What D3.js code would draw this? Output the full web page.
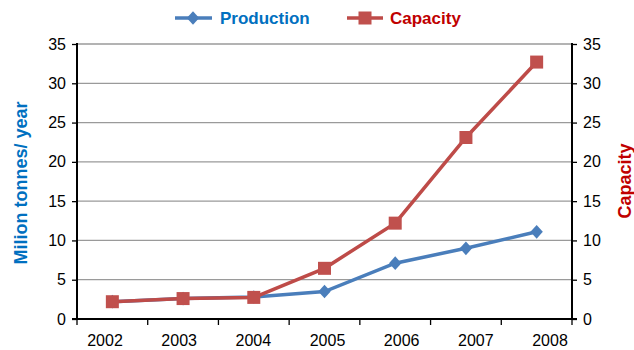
<!DOCTYPE html>
<html>
<head>
<meta charset="utf-8">
<script src="https://cdn.jsdelivr.net/npm/d3@7"></script>
<style>
  body { margin: 0; background: #fff; }
  svg { font-family: "Liberation Sans", Arial, sans-serif; }
</style>
</head>
<body>
<div id="chart"></div>
<script>
// data
const years = ["2002", "2003", "2004", "2005", "2006", "2007", "2008"];
const production = [2.2, 2.6, 2.8, 3.5, 7.1, 9.0, 11.1];
const capacity = [2.2, 2.6, 2.75, 6.45, 12.2, 23.1, 32.7];
const yTicks = [0, 5, 10, 15, 20, 25, 30, 35];

const W = 634, H = 350;
const plot = { left: 77, right: 572, top: 44, bottom: 319 };

const svg = d3.select("#chart").append("svg")
    .attr("width", W)
    .attr("height", H);

// scales
const x = d3.scaleBand().domain(years).range([plot.left, plot.right]);
const xLabel = d3.scalePoint().domain(years).range([105, 550]);
const y = d3.scaleLinear().domain([0, 35]).range([plot.bottom, plot.top]);

// gridlines
svg.append("g")
    .selectAll("line")
    .data(yTicks.filter(d => d > 0))
    .enter()
    .append("line")
    .attr("x1", plot.left)
    .attr("x2", plot.right)
    .attr("y1", d => y(d))
    .attr("y2", d => y(d))
    .attr("stroke", "#9a9a9a")
    .attr("stroke-width", 1.3);

// left axis
const leftAxis = svg.append("g")
    .attr("transform", `translate(${plot.left},0)`)
    .call(d3.axisLeft(y).tickValues(yTicks).tickSize(5).tickPadding(6));

// right axis
const rightAxis = svg.append("g")
    .attr("transform", `translate(${plot.right},0)`)
    .call(d3.axisRight(y).tickValues(yTicks).tickSize(5).tickPadding(6));

// bottom axis: ticks on category boundaries
const bottomAxis = svg.append("g")
    .attr("transform", `translate(0,${plot.bottom})`);
bottomAxis.append("line")
    .attr("x1", plot.left - 5).attr("x2", plot.right + 5)
    .attr("stroke", "#000").attr("stroke-width", 2);
bottomAxis.selectAll(".btick")
    .data(years.concat(["end"]))
    .enter()
    .append("line")
    .attr("class", "btick")
    .attr("x1", (d, i) => plot.left + i * x.bandwidth())
    .attr("x2", (d, i) => plot.left + i * x.bandwidth())
    .attr("y1", 0).attr("y2", 6)
    .attr("stroke", "#000").attr("stroke-width", 1.3);
bottomAxis.selectAll(".blabel")
    .data(years)
    .enter()
    .append("text")
    .attr("class", "blabel")
    .attr("x", d => xLabel(d))
    .attr("y", 27)
    .attr("text-anchor", "middle")
    .attr("font-size", 16)
    .attr("fill", "#000")
    .text(d => d);

[leftAxis, rightAxis].forEach(g => {
    g.select(".domain").attr("stroke", "#000").attr("stroke-width", 2)
        .attr("d", `M0,${plot.top - 1}V${plot.bottom + 1}`);
    g.selectAll(".tick line").attr("stroke", "#000").attr("stroke-width", 1.3);
    g.selectAll(".tick text").attr("font-size", 16).attr("fill", "#000")
        .attr("font-family", "Liberation Sans, Arial, sans-serif");
});

// lines
const cx = d => x(d) + x.bandwidth() / 2;
const line = d3.line()
    .x(d => cx(d.year))
    .y(d => y(d.value));

const prodData = years.map((yr, i) => ({ year: yr, value: production[i] }));
const capData = years.map((yr, i) => ({ year: yr, value: capacity[i] }));

const diamond = d3.symbol().type(d3.symbolDiamond2).size(120);

svg.append("path")
    .datum(prodData)
    .attr("d", line)
    .attr("fill", "none")
    .attr("stroke", "#4a7ebb")
    .attr("stroke-width", 3.5);

svg.selectAll(".prod")
    .data(prodData)
    .enter()
    .append("path")
    .attr("class", "prod")
    .attr("d", diamond)
    .attr("transform", d => `translate(${cx(d.year)},${y(d.value)}) scale(0.9,1)`)
    .attr("fill", "#4a7ebb");

svg.append("path")
    .datum(capData)
    .attr("d", line)
    .attr("fill", "none")
    .attr("stroke", "#be4b48")
    .attr("stroke-width", 3.5);

svg.selectAll(".cap")
    .data(capData)
    .enter()
    .append("rect")
    .attr("class", "cap")
    .attr("x", d => cx(d.year) - 6.5)
    .attr("y", d => y(d.value) - 6.5)
    .attr("width", 13)
    .attr("height", 13)
    .attr("fill", "#c0504d");

// axis titles
svg.append("text")
    .attr("transform", "translate(27,183) rotate(-90)")
    .attr("text-anchor", "middle")
    .attr("font-size", 18)
    .attr("font-weight", "bold")
    .attr("fill", "#0070c0")
    .text("Milion tonnes/ year");

svg.append("text")
    .attr("transform", "translate(631,181) rotate(-90)")
    .attr("text-anchor", "middle")
    .attr("font-size", 18)
    .attr("font-weight", "bold")
    .attr("fill", "#c00000")
    .text("Capacity");

// legend
const legend = svg.append("g");
legend.append("line")
    .attr("x1", 175).attr("x2", 212).attr("y1", 18).attr("y2", 18)
    .attr("stroke", "#4a7ebb").attr("stroke-width", 3.5);
legend.append("path")
    .attr("d", diamond)
    .attr("transform", "translate(193,18) scale(0.9,1)")
    .attr("fill", "#4a7ebb");
legend.append("text")
    .attr("x", 220).attr("y", 24)
    .attr("font-size", 17).attr("font-weight", "bold")
    .attr("fill", "#0070c0")
    .text("Production");

legend.append("line")
    .attr("x1", 347).attr("x2", 383).attr("y1", 18).attr("y2", 18)
    .attr("stroke", "#be4b48").attr("stroke-width", 3.5);
legend.append("rect")
    .attr("x", 358.5).attr("y", 11.5).attr("width", 13).attr("height", 13)
    .attr("fill", "#c0504d");
legend.append("text")
    .attr("x", 390).attr("y", 24)
    .attr("font-size", 17).attr("font-weight", "bold")
    .attr("fill", "#c00000")
    .text("Capacity");
</script>
</body>
</html>
